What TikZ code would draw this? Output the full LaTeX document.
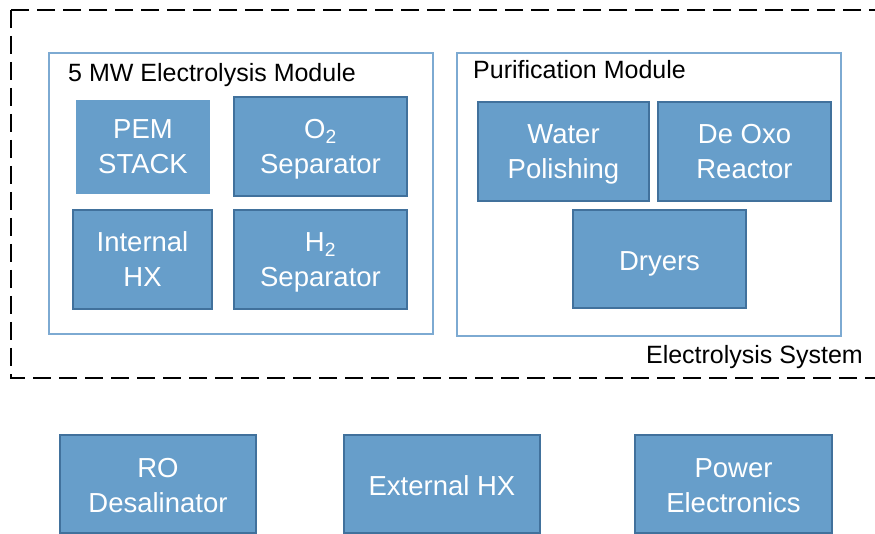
\documentclass[tikz,border=0pt]{standalone}
\usepackage{fontspec}
\setmainfont{Liberation Sans}
\definecolor{boxfill}{RGB}{103,158,202}
\definecolor{boxedge}{RGB}{65,113,156}
\definecolor{modedge}{RGB}{125,170,210}
\tikzset{
  unit/.style={fill=boxfill, draw=boxedge, line width=1.5pt, inner sep=0pt,
    text=white, align=center, font=\fontsize{27.5}{35}\selectfont},
  flatunit/.style={unit, draw=none},
  module/.style={draw=modedge, line width=1.6pt},
  title/.style={inner sep=0pt, font=\fontsize{25}{30}\selectfont, text=black},
  system/.style={draw=black, line width=2pt, dash pattern=on 18pt off 8pt}
}
\newcommand{\sbt}[1]{\textsubscript{#1}}
% centre a label on its capitals: drop the descender depth
\newcommand{\nod}[1]{\raisebox{0pt}[\height][0pt]{#1}}
% same, and sit the text a little lower in its box
\newcommand{\low}[1]{\raisebox{0pt}[\dimexpr\height+4pt\relax][0pt]{#1}}
\begin{document}
\begin{tikzpicture}[x=1pt, y=-1pt]
  \useasboundingbox (0,0) rectangle (875,534);
  \begin{scope}
    \clip (0,0) rectangle (875,534);
    % dashed system boundary, its right side runs off the page
    \draw[system] (11,10) rectangle (900,378);
  \end{scope}
  \node[title, anchor=base east] (sysl) at (863,363) {Electrolysis System};

  % electrolysis module
  \draw[module] (49,53) rectangle (433,334);
  \node[title, anchor=base west] (eml) at (68,82) {5 MW Electrolysis Module};
  \node[flatunit, minimum width=134pt, minimum height=94pt] (pem) at (143,147) {PEM\\STACK};
  \node[unit, minimum width=173pt, minimum height=99pt] (o2) at (320.5,146.5) {O\sbt{2}\\\nod{Separator}};
  \node[unit, minimum width=139pt, minimum height=99pt] (ihx) at (142.5,259.5) {Internal\\HX};
  \node[unit, minimum width=173pt, minimum height=99pt] (h2) at (320.5,259.5) {H\sbt{2}\\\nod{Separator}};

  % purification module
  \draw[module] (457,53) rectangle (841,336);
  \node[title, anchor=base west] (pml) at (473,79) {Purification Module};
  \node[unit, minimum width=171pt, minimum height=99pt] (wp) at (563.5,151.5) {Water\\\nod{Polishing}};
  \node[unit, minimum width=173pt, minimum height=99pt] (dox) at (744.5,151.5) {De Oxo\\Reactor};
  \node[unit, minimum width=173pt, minimum height=98pt] (dry) at (659.5,259) {\low{Dryers}};

  % balance of plant
  \node[unit, minimum width=196pt, minimum height=98pt] (ro) at (158,484) {\low{RO}\\Desalinator};
  \node[unit, minimum width=196pt, minimum height=98pt] (ehx) at (442,484) {\low{External HX}};
  \node[unit, minimum width=197pt, minimum height=98pt] (pe) at (733.5,484) {\low{Power}\\Electronics};
\end{tikzpicture}
\end{document}
